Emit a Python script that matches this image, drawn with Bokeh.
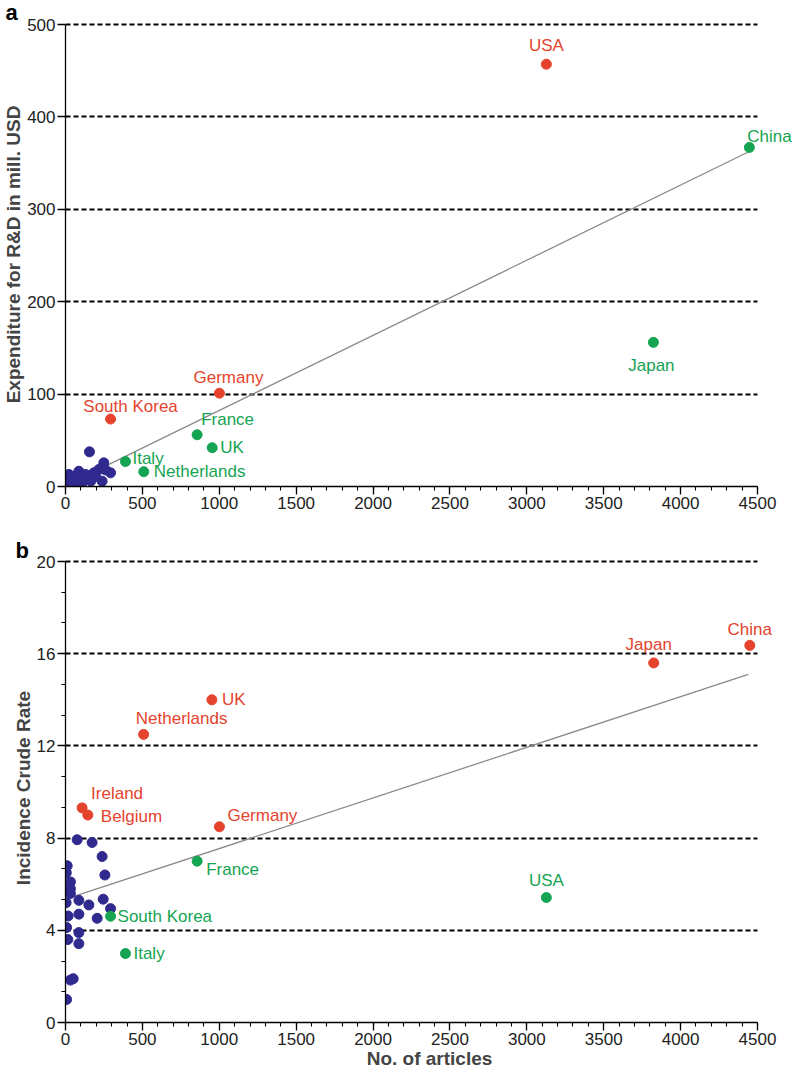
from bokeh.plotting import figure
from bokeh.models import ColumnDataSource, LabelSet, SingleIntervalTicker, Title
from bokeh.layouts import column
from bokeh.core.properties import value
from bokeh.embed import file_html
from bokeh.resources import INLINE

FONT = "Liberation Sans"
RED = "#e5432d"
GREEN = "#14a452"
BLUE = "#30298e"

# ---------------- Panel a data ----------------
a_red_names = ["USA", "Germany", "South Korea"]
a_red_x = [3127, 1001, 293]
a_red_y = [457, 101, 73]

a_green_names = ["China", "Japan", "France", "UK", "Italy", "Netherlands"]
a_green_x = [4447, 3823, 856, 954, 390, 509]
a_green_y = [367, 156, 56, 42, 27, 16]

a_blue_x = [156, 249, 293, 238, 87, 22, 0, 33, 11, 54, 108, 152, 184, 217, 195,
            130, 43, 22, 87, 5, 70, 165, 260, 120, 15]
a_blue_y = [37.5, 25.6, 14.8, 5.8, 16.5, 13, 8.3, 8, 2, 2, 4, 9.4, 14.8, 18.4, 11,
            13, 11, 0.5, 0.5, 5, 7, 6, 18, 7, 10]

a_fit_x = [0, 4440]
a_fit_y = [1, 362]

# ---------------- Panel b data ----------------
b_red_names = ["China", "Japan", "UK", "Netherlands", "Ireland", "Belgium", "Germany"]
b_red_x = [4450, 3825, 952, 508, 108, 145, 1001]
b_red_y = [16.36, 15.6, 14.0, 12.5, 9.31, 9.0, 8.49]

b_green_names = ["France", "South Korea", "Italy", "USA"]
b_green_x = [856, 293, 390, 3127]
b_green_y = [7.0, 4.61, 2.99, 5.42]

b_blue_x = [76, 173, 238, 256, 11, 0, 5, 32, 32, 32, 4, 87, 152, 245, 293, 17, 87,
            206, 7, 15, 87, 87, 32, 50, 7]
b_blue_y = [7.93, 7.81, 7.2, 6.4, 6.8, 6.6, 6.5, 6.1, 5.8, 5.6, 5.2, 5.3, 5.1, 5.35,
            4.94, 4.62, 4.7, 4.52, 4.12, 3.6, 3.9, 3.42, 1.84, 1.9, 1.0]

b_fit_x = [0, 4440]
b_fit_y = [5.35, 15.1]

X_MAX = 4500
A_MAX = 500
B_MAX = 20

# label offsets in pixels (dx right, dy down) and alignment
a_red_off = [(0, -19, "center"), (9, -16, "center"), (20, -13, "center")]
a_green_off = [(-2, -11, "left"), (-2, 23, "center"), (4, -15, "left"),
               (8, 0, "left"), (7, -3, "left"), (10, 0, "left")]
b_red_off = [(0, -16, "center"), (-5, -18, "center"), (10, 0, "left"),
             (38, -16, "center"), (9, -14, "left"), (13, 1, "left"), (8, -11, "left")]
b_green_off = [(9, 8, "left"), (7, 0, "left"), (8, 0, "left"), (0, -17, "center")]

PX_X = 692 / X_MAX  # pixels per x unit


def style_axes(p, yinterval, yminor, ymax, ylabel, xlabel=None):
    p.xaxis.ticker = SingleIntervalTicker(interval=500, num_minor_ticks=5)
    p.yaxis.ticker = SingleIntervalTicker(interval=yinterval, num_minor_ticks=yminor)
    p.xaxis.bounds = (0, X_MAX)
    p.yaxis.bounds = (0, ymax)
    p.ygrid.ticker = SingleIntervalTicker(interval=yinterval)
    p.xgrid.visible = False
    p.ygrid.grid_line_color = "black"
    p.ygrid.grid_line_dash = "5 3"
    p.ygrid.grid_line_width = 2
    p.ygrid.bounds = (yinterval * 0.5, ymax)
    p.ygrid.cross_bounds = (0, X_MAX)
    for ax in (p.xaxis[0], p.yaxis[0]):
        ax.axis_line_color = "black"
        ax.axis_line_width = 1.3
        ax.major_tick_line_color = "black"
        ax.major_tick_line_width = 1.3
        ax.minor_tick_line_color = "black"
        ax.minor_tick_line_width = 1.1
        ax.major_tick_in = 0
        ax.major_tick_out = 8
        ax.minor_tick_in = 0
        ax.minor_tick_out = 4
        ax.major_label_text_font = FONT
        ax.major_label_text_font_size = "17px"
        ax.major_label_text_color = "#222222"
        ax.major_label_standoff = 2
        ax.axis_label_text_font = FONT
        ax.axis_label_text_font_style = "bold"
        ax.axis_label_text_font_size = "19px"
        ax.axis_label_standoff = 0
    if yminor == 0:
        p.yaxis.minor_tick_line_color = None
    p.yaxis.axis_label = ylabel
    if xlabel:
        p.xaxis.axis_label = xlabel


def add_points(p, names, xs, ys, color, offs):
    src = ColumnDataSource(dict(
        x=xs, y=ys, name=names,
        dx=[o[0] for o in offs], dy=[-o[1] for o in offs],
        align=[o[2] for o in offs]))
    p.scatter("x", "y", source=src, size=10, color=color, line_color=color)
    p.add_layout(LabelSet(x="x", y="y", text="name", source=src,
                          x_offset="dx", y_offset="dy", text_align="align",
                          text_baseline="middle", text_color=color,
                          text_font=value(FONT), text_font_size="17px"))


def make_fig(letter, letter_dx, standoff, plot_h, top, bottom, ymax, top_px, px_y):
    p = figure(frame_width=728, frame_height=plot_h + top_px,
               x_range=(0, X_MAX + 36 / PX_X), y_range=(0, ymax + top_px / px_y),
               min_border_left=57, min_border_right=0,
               min_border_top=top, min_border_bottom=bottom,
               output_backend="svg", toolbar_location=None,
               background_fill_color="white", border_fill_color="white")
    p.outline_line_color = None
    p.title = Title(text=letter, align="left", offset=letter_dx, standoff=standoff,
                    text_font=FONT, text_font_style="bold", text_font_size="22px",
                    text_color="black")
    return p


# ---------- Panel a ----------
PY_A = 462 / A_MAX
pa = make_fig("a", -60, -5, 462, 0, 30, A_MAX, 2, PY_A)
style_axes(pa, 100, 0, A_MAX, "Expenditure for R&D in mill. USD")
pa.line(a_fit_x, a_fit_y, line_color="#8a8a8a", line_width=1.3)
pa.scatter(a_blue_x, a_blue_y, size=10, color=BLUE)
add_points(pa, a_red_names, a_red_x, a_red_y, RED, a_red_off)
add_points(pa, a_green_names, a_green_x, a_green_y, GREEN, a_green_off)

# ---------- Panel b ----------
PY_B = 461 / B_MAX
pb = make_fig("b", -50, -18, 461, 37, 45, B_MAX, 8, PY_B)
style_axes(pb, 4, 3, B_MAX, "Incidence Crude Rate", "No. of articles")
pb.line(b_fit_x, b_fit_y, line_color="#8a8a8a", line_width=1.3)
pb.scatter(b_blue_x, b_blue_y, size=10, color=BLUE)
add_points(pb, b_red_names, b_red_x, b_red_y, RED, b_red_off)
add_points(pb, b_green_names, b_green_x, b_green_y, GREEN, b_green_off)

layout = column(pa, pb, spacing=0)
open("out.html", "w").write(file_html(layout, INLINE))
